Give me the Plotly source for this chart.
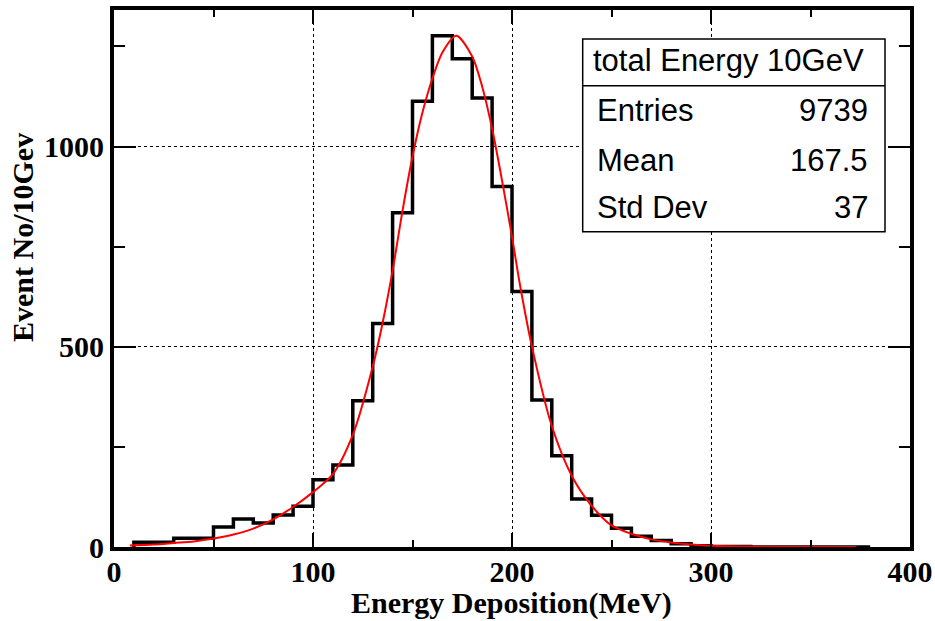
import plotly.graph_objects as go

# ---- data ----
bin_edges_left = [10, 20, 30, 40, 50, 60, 70, 80, 90, 100, 110, 120, 130, 140, 150,
                  160, 170, 180, 190, 200, 210, 220, 230, 240, 250, 260, 270, 280,
                  290, 300, 310, 320, 330, 340, 350, 360, 370]
bin_width = 10
counts = [12, 12, 22, 22, 50, 70, 60, 80, 102, 168, 205, 365, 558, 835, 1113,
          1277, 1219, 1121, 900, 638, 367, 228, 120, 79, 47, 27, 16, 8,
          3, 1, 1, 0, 0, 0, 0, 0, 0]

fit_x = [8, 20, 30, 40, 50, 60, 70, 80, 90, 100, 110, 120, 130, 135, 140, 145, 150,
         155, 160, 165, 172, 180, 185, 190, 195, 200, 204, 210, 220, 230, 240, 250, 260, 270,
         280, 290, 300, 320, 340, 373]
fit_y = [4, 6, 10, 14, 21, 31, 46, 69, 100, 137, 182, 280, 450, 560, 690, 840, 975,
         1085, 1170, 1235, 1277, 1225, 1150, 1045, 915, 775, 655, 501, 302, 178, 103, 54, 33, 19,
         11, 6, 3, 1, 0.5, 0]

stats_title = "total Energy 10GeV"
stats_labels = ["Entries", "Mean", "Std Dev"]
stats_values = ["9739", "167.5", "37"]

x_ticks = [0, 100, 200, 300, 400]
y_ticks = [0, 500, 1000]
x_title = "Energy Deposition(MeV)"
y_title = "Event No/10Gev"

# ---- build step outline of the histogram ----
hx = [bin_edges_left[0]] + bin_edges_left + [bin_edges_left[-1] + bin_width]
hy = [0] + counts + [counts[-1]]

fig = go.Figure()
fig.add_trace(go.Scatter(x=hx, y=hy, mode="lines", line=dict(shape="hv", color="black", width=3.5),
                         showlegend=False, hoverinfo="skip"))
fig.add_trace(go.Scatter(x=fit_x, y=fit_y, mode="lines",
                         line=dict(shape="spline", smoothing=0.8, color="#ff0000", width=2),
                         showlegend=False, hoverinfo="skip"))

W, H = 935, 621
L, R, T, B = 114, 25, 10, 74
pw, ph = W - L - R, H - T - B


def px(xp):
    return (xp - L) / pw


def py(yp):
    return 1 - (yp - T) / ph


tick_font = dict(family="Liberation Serif", size=30, color="black", weight="bold")
axis_common = dict(
    showline=True, linewidth=4, linecolor="black", mirror="allticks",
    ticks="inside", tickcolor="black", tickwidth=1.5, automargin=False,
    showgrid=True, gridcolor="black", griddash="dot", gridwidth=1,
    zeroline=False, tickfont=tick_font,
)

fig.update_xaxes(range=[0, 400], tickvals=x_ticks, ticklen=14, ticklabelstandoff=-5,
                 minor=dict(dtick=50, ticklen=7, tickwidth=1.5, tickcolor="black", ticks="inside", showgrid=False),
                 **axis_common)
fig.update_yaxes(range=[0, 1341], tickvals=y_ticks, ticklen=22,
                 minor=dict(dtick=250, ticklen=11, tickwidth=1.5, tickcolor="black", ticks="inside", showgrid=False),
                 **axis_common)

shapes = [
    dict(type="rect", xref="paper", yref="paper", x0=px(582.7), x1=px(885), y0=py(231.7), y1=py(39),
         line=dict(color="black", width=1.5), fillcolor="white", layer="above"),
    dict(type="line", xref="paper", yref="paper", x0=px(582.7), x1=px(885), y0=py(85.7), y1=py(85.7),
         line=dict(color="black", width=1.5), layer="above"),
]

sfont = dict(family="Liberation Sans", size=31, color="black")
annotations = [
    dict(xref="paper", yref="paper", x=px(591), y=py(61), text=stats_title, showarrow=False,
         xanchor="left", yanchor="middle", font=sfont),
]
row_y = [111, 160, 208]
for lab, val, yy in zip(stats_labels, stats_values, row_y):
    annotations.append(dict(xref="paper", yref="paper", x=px(595), y=py(yy), text=lab, showarrow=False,
                            xanchor="left", yanchor="middle", font=sfont))
    annotations.append(dict(xref="paper", yref="paper", x=px(870), y=py(yy), text=val, showarrow=False,
                            xanchor="right", yanchor="middle", font=sfont))

title_font = dict(family="Liberation Serif", size=30, color="black", weight="bold")
annotations.append(dict(xref="paper", yref="paper", x=px(511), y=py(603), text=x_title, showarrow=False,
                        xanchor="center", yanchor="middle", font=title_font, borderpad=0))
annotations.append(dict(xref="paper", yref="paper", x=px(22), y=py(238), text=y_title, showarrow=False,
                        xanchor="center", yanchor="middle", textangle=-90, font=title_font))

fig.update_layout(
    width=W, height=H,
    margin=dict(l=L, r=R, t=T, b=B),
    paper_bgcolor="white", plot_bgcolor="white",
    shapes=shapes, annotations=annotations,
    showlegend=False,
)

fig.write_html("out.html")
